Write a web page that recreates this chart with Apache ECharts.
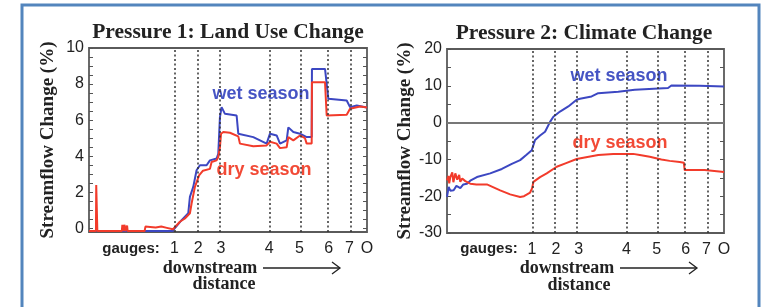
<!DOCTYPE html>
<html>
<head>
<meta charset="utf-8">
<script src="https://cdn.jsdelivr.net/npm/echarts@6/dist/echarts.min.js"></script>
<style>
html,body{margin:0;padding:0;background:#fff;}
#main{width:771px;height:307px;}
</style>
</head>
<body>
<div id="main"></div>
<script>
// gauges along the river, as fraction of downstream distance
var gaugeNames = ['1', '2', '3', '4', '5', '6', '7', 'O'];
var gaugePos = [0.307, 0.393, 0.475, 0.648, 0.757, 0.862, 0.937, 1.0];

// y tick labels
var landTicks = [0, 2, 4, 6, 8, 10];
var climateTicks = [-30, -20, -10, 0, 10, 20];

// Pressure 1: land use change  [distance, % change]
var landWet = [
  [0, -0.15], [0.30, -0.15], [0.302, -0.05], [0.333, 0.46], [0.357, 0.84], [0.363, 1.75],
  [0.375, 2.3], [0.387, 3.22], [0.399, 3.5], [0.423, 3.5], [0.435, 3.77], [0.459, 3.87],
  [0.465, 4.14], [0.471, 6.17], [0.477, 6.72], [0.489, 6.35], [0.531, 6.26], [0.537, 5.25],
  [0.591, 5.06], [0.615, 4.88], [0.639, 4.7], [0.651, 5.25], [0.675, 5.15], [0.687, 4.7],
  [0.711, 4.88], [0.717, 5.6], [0.735, 5.34], [0.759, 5.25], [0.783, 5.06], [0.801, 5.06],
  [0.802, 8.84], [0.849, 8.84], [0.861, 7.18], [0.927, 7.09], [0.939, 6.72], [0.963, 6.81],
  [1.0, 6.7]
];
var landDry = [
  [0, -0.15], [0.025, -0.15], [0.026, 2.4], [0.029, 2.4], [0.03, -0.15], [0.118, -0.15],
  [0.12, 0.2], [0.122, -0.15], [0.128, 0.2], [0.13, -0.15], [0.137, 0.15], [0.139, -0.15],
  [0.2, -0.15], [0.203, 0.1], [0.22, 0.08], [0.24, 0.05], [0.26, 0.1], [0.28, 0.03],
  [0.302, -0.05], [0.327, 0.37], [0.345, 0.55], [0.363, 0.84], [0.369, 1.38], [0.381, 2.3],
  [0.396, 2.94], [0.41, 3.2], [0.435, 3.3], [0.441, 3.68], [0.459, 3.77], [0.465, 3.96],
  [0.471, 4.5], [0.475, 5.25], [0.483, 5.34], [0.507, 5.3], [0.537, 5.1], [0.543, 4.7],
  [0.591, 4.55], [0.639, 4.6], [0.651, 4.8], [0.675, 4.7], [0.687, 4.45], [0.711, 4.5],
  [0.717, 5.06], [0.735, 4.88], [0.759, 5.15], [0.777, 5.0], [0.783, 4.7], [0.801, 4.7],
  [0.802, 8.1], [0.849, 8.1], [0.855, 6.26], [0.927, 6.3], [0.939, 6.63], [0.975, 6.76],
  [1.0, 6.7]
];

// Pressure 2: climate change
var climateWet = [
  [0, -20.2], [0.006, -17.5], [0.012, -18.5], [0.024, -18.4], [0.034, -17.2], [0.048, -17.8],
  [0.059, -16.8], [0.072, -16.6], [0.084, -15.8], [0.108, -14.8], [0.156, -13.8], [0.198, -12.6],
  [0.234, -11.2], [0.264, -10.2], [0.286, -8.8], [0.306, -7.5], [0.318, -4.7], [0.336, -3.5],
  [0.354, -2.5], [0.372, 0.2], [0.384, 1.6], [0.408, 3.0], [0.438, 4.4], [0.468, 6.2],
  [0.48, 6.5], [0.522, 7.1], [0.546, 8.0], [0.618, 8.4], [0.678, 8.9], [0.798, 9.4],
  [0.81, 10.1], [0.912, 10.0], [1.0, 9.8]
];
var climateDry = [
  [0, -15.7], [0.005, -14.5], [0.008, -16.5], [0.012, -14.8], [0.019, -13.5], [0.023, -16.2],
  [0.03, -13.8], [0.037, -15.5], [0.044, -14.2], [0.048, -16.1], [0.055, -15.2], [0.06, -14.8],
  [0.066, -15.9], [0.084, -16.6], [0.106, -16.8], [0.144, -16.8], [0.192, -18.4], [0.228, -19.5],
  [0.264, -20.2], [0.278, -20.0], [0.3, -19.0], [0.307, -17.9], [0.312, -16.1], [0.336, -14.8],
  [0.36, -13.8], [0.396, -12.0], [0.43, -11.0], [0.468, -9.9], [0.546, -8.8], [0.6, -8.5],
  [0.672, -8.5], [0.696, -8.8], [0.732, -9.3], [0.774, -10.0], [0.804, -10.4], [0.84, -10.7],
  [0.855, -10.9], [0.858, -12.9], [0.93, -12.9], [1.0, -13.4]
];

var WET = '#3c47c2';
var DRY = '#f23b2b';
var SANS = '"Liberation Sans", Arial, sans-serif';
var SERIF = '"Liberation Serif", "Times New Roman", serif';

// minor ticks every step between min and max
function tickList(lo, hi, step){
    var out = [];
    for (var v = lo; v <= hi + 1e-9; v += step) out.push(+v.toFixed(3));
    return out;
}

var chart = echarts.init(document.getElementById('main'), null, {renderer: 'canvas'});

function xAxisFor(gi){
    return {
        type: 'value', gridIndex: gi, min: 0, max: 1,
        axisLine: {show: false}, axisTick: {show: false}, splitLine: {show: false},
        axisLabel: {
            customValues: gaugePos, margin: 9, color: '#222',
            fontFamily: SANS, fontSize: 16,
            formatter: function(v){
                var i = gaugePos.indexOf(v);
                return i >= 0 ? gaugeNames[i] : '';
            }
        }
    };
}

function yAxisFor(gi, min, max, labels, minor, pos){
    var left = pos === 'left';
    return {
        type: 'value', gridIndex: gi, min: min, max: max, position: pos,
        name: left ? 'Streamflow Change (%)' : '',
        nameLocation: 'middle', nameRotate: 90, nameGap: 31,
        nameTextStyle: {fontFamily: SERIF, fontWeight: 'bold', fontSize: 19, color: '#222'},
        axisLine: {show: false},
        splitLine: {show: false},
        axisTick: {show: true, inside: true, length: 4, customValues: minor,
            lineStyle: {color: '#555', width: 1}},
        axisLabel: {show: left, customValues: labels, margin: 5, color: '#222',
            fontFamily: SANS, fontSize: 16}
    };
}

var dotted = {type: [2, 2.5], color: '#333', width: 1.5};
var gaugeLines = gaugePos.slice(0, 7).map(function(p){ return {xAxis: p}; });

var option = {
    animation: false,
    grid: [
        {left: 89, top: 48, width: 278, height: 184, show: true, borderColor: '#5a5a5a', borderWidth: 1.8},
        {left: 447, top: 49, width: 277, height: 184, show: true, borderColor: '#5a5a5a', borderWidth: 1.8}
    ],
    xAxis: [xAxisFor(0), xAxisFor(1)],
    yAxis: [
        yAxisFor(0, -0.2, 10, landTicks, tickList(0, 10, 0.5), 'left'),
        yAxisFor(0, -0.2, 10, landTicks, tickList(0, 10, 0.5), 'right'),
        yAxisFor(1, -30, 20, climateTicks, tickList(-30, 20, 5), 'left'),
        yAxisFor(1, -30, 20, climateTicks, tickList(-30, 20, 5), 'right')
    ],
    series: [
        {
            name: 'wet', type: 'line', xAxisIndex: 0, yAxisIndex: 0, data: landWet,
            showSymbol: false, lineStyle: {color: WET, width: 2}, silent: true,
            markLine: {silent: true, symbol: 'none', label: {show: false}, lineStyle: dotted, data: gaugeLines}
        },
        {
            name: 'dry', type: 'line', xAxisIndex: 0, yAxisIndex: 0, data: landDry,
            showSymbol: false, lineStyle: {color: DRY, width: 2}, silent: true
        },
        {
            name: 'wet', type: 'line', xAxisIndex: 1, yAxisIndex: 2, data: climateWet,
            showSymbol: false, lineStyle: {color: WET, width: 2}, silent: true,
            markLine: {silent: true, symbol: 'none', label: {show: false}, lineStyle: dotted,
                data: gaugeLines.concat([{yAxis: 0, lineStyle: {type: 'solid', color: '#777', width: 2}}])}
        },
        {
            name: 'dry', type: 'line', xAxisIndex: 1, yAxisIndex: 2, data: climateDry,
            showSymbol: false, lineStyle: {color: DRY, width: 2}, silent: true
        }
    ],
    graphic: []
};

function txt(x, y, s, font, color, align){
    return {type: 'text', x: x, y: y, silent: true,
        style: {text: s, font: font, fill: color || '#222', align: align || 'center', verticalAlign: 'middle'}};
}
function arrow(x1, x2, y){
    return [
        {type: 'line', silent: true, shape: {x1: x1, y1: y, x2: x2, y2: y}, style: {stroke: '#222', lineWidth: 1.3}},
        {type: 'polyline', silent: true, shape: {points: [[x2 - 8, y - 6], [x2, y], [x2 - 8, y + 6]]},
            style: {stroke: '#222', lineWidth: 1.3, fill: null}}
    ];
}

var g = option.graphic;
// outer blue frame
g.push({type: 'rect', silent: true, shape: {x: 22, y: 5, width: 737, height: 320},
    style: {fill: null, stroke: '#5385bd', lineWidth: 3}});
// titles
g.push(txt(228, 32, 'Pressure 1: Land Use Change', 'bold 21.5px ' + SERIF));
g.push(txt(584, 33, 'Pressure 2: Climate Change', 'bold 21.5px ' + SERIF));
// series labels
g.push(txt(261, 94, 'wet season', 'bold 18px ' + SANS, '#4654c4'));
g.push(txt(264, 170, 'dry season', 'bold 18px ' + SANS, '#f24a36'));
g.push(txt(619, 76, 'wet season', 'bold 18px ' + SANS, '#4654c4'));
g.push(txt(620, 143, 'dry season', 'bold 18px ' + SANS, '#f24a36'));
// gauges & downstream distance
g.push(txt(131, 249, 'gauges:', 'bold 15px ' + SANS));
g.push(txt(489, 249, 'gauges:', 'bold 15px ' + SANS));
g.push(txt(210, 268, 'downstream', 'bold 18px ' + SERIF));
g.push(txt(224, 284, 'distance', 'bold 18px ' + SERIF));
g.push(txt(567, 268, 'downstream', 'bold 18px ' + SERIF));
g.push(txt(579, 285, 'distance', 'bold 18px ' + SERIF));
option.graphic = g.concat(arrow(263, 340, 268), arrow(620, 697, 268));

chart.setOption(option);
</script>
</body>
</html>
